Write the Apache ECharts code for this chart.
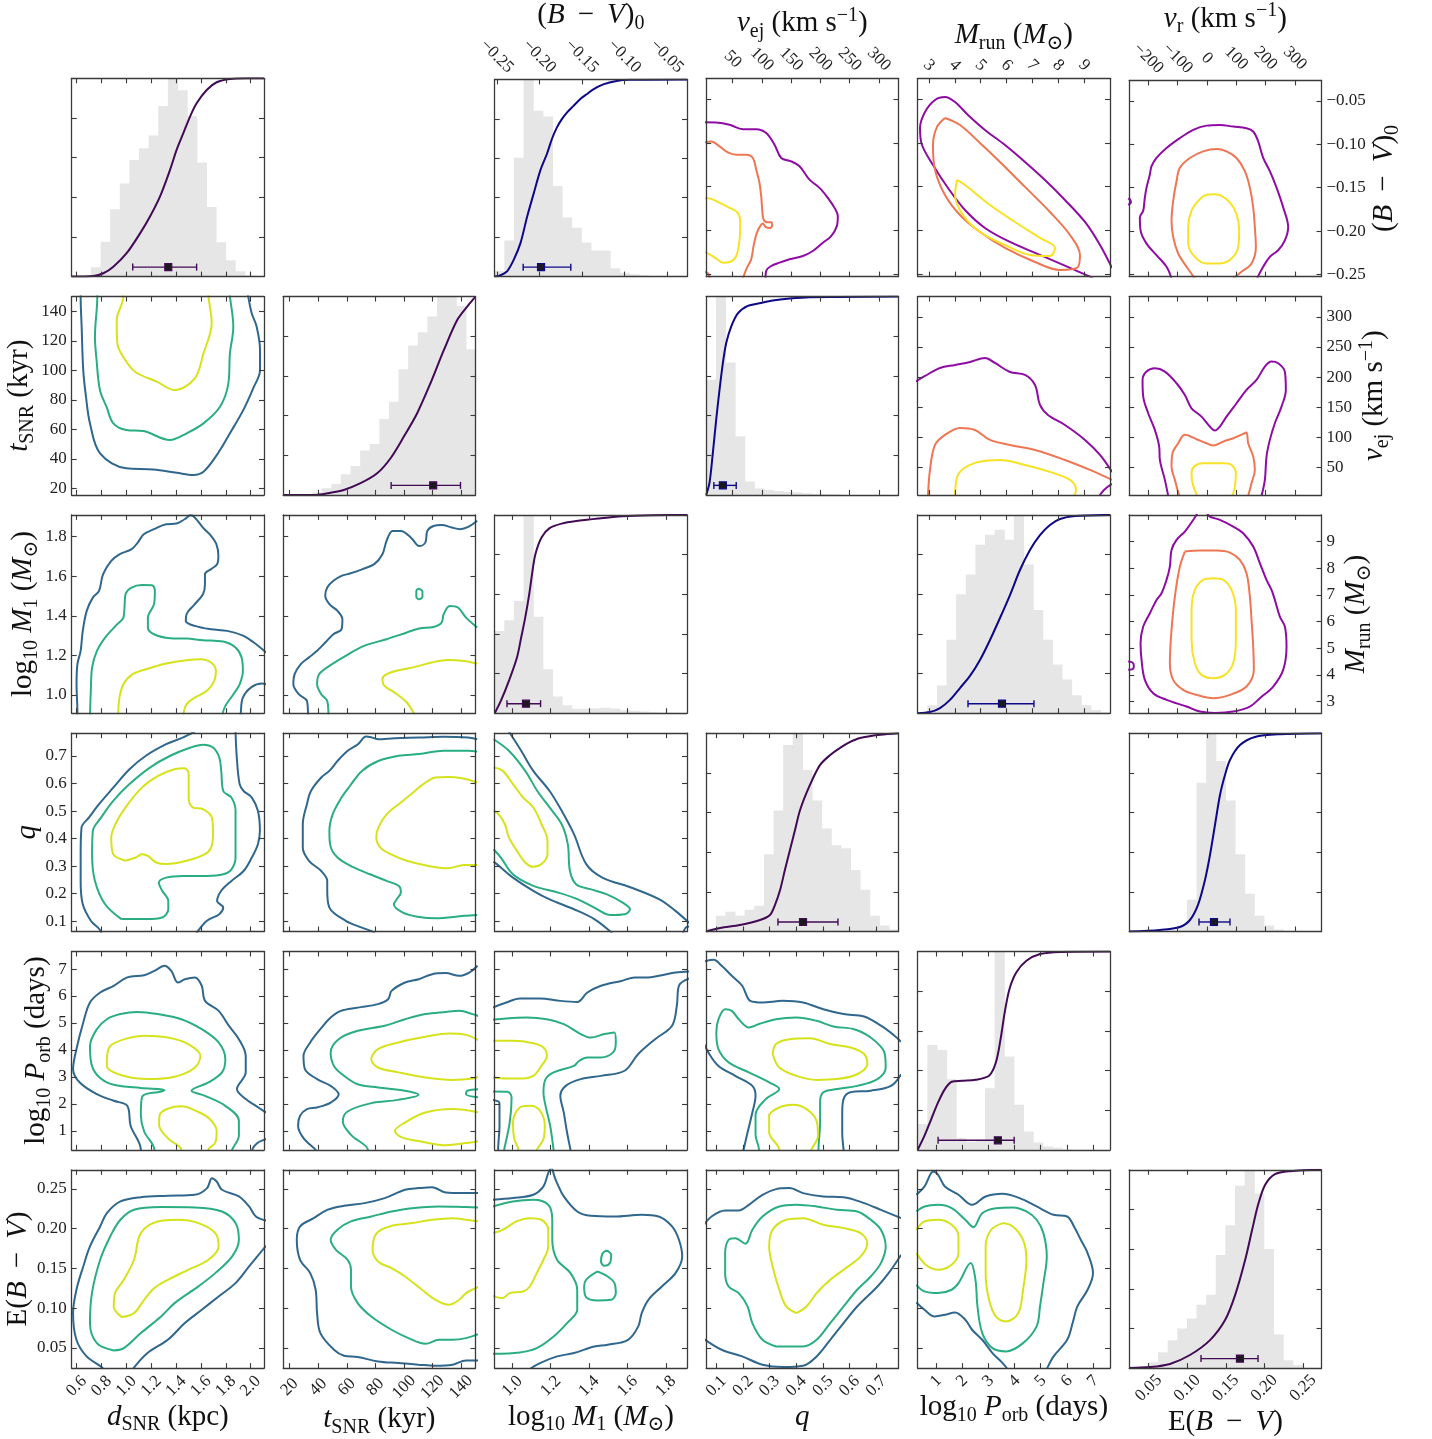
<!DOCTYPE html>
<html><head><meta charset="utf-8">
<script src="https://cdn.jsdelivr.net/npm/echarts@6/dist/echarts.min.js"></script>
<style>html,body{margin:0;padding:0;background:#fff}#c{width:1432px;height:1439px}</style>
</head><body><div id="c"></div>
<script>
// ---------- axis extents & ticks ----------
const range_d = [0.56, 2.107], ticks_d = [0.6,0.8,1.0,1.2,1.4,1.6,1.8,2.0];
const range_t = [15.5, 150], ticks_t = [20,40,60,80,100,120,140];
const range_M1 = [0.908, 1.91], ticks_M1 = [1.0,1.2,1.4,1.6,1.8];
const range_q = [0.062, 0.783], ticks_q = [0.1,0.2,0.3,0.4,0.5,0.6,0.7];
const range_P = [0.30, 7.65], ticks_P = [1,2,3,4,5,6,7];
const range_E = [0.0247, 0.274], ticks_E = [0.05,0.10,0.15,0.20,0.25];
const range_BV0 = [-0.2525, -0.0263], ticks_BV0 = [-0.25,-0.20,-0.15,-0.10,-0.05];
const range_vej = [4.8, 333.5], ticks_vej = [50,100,150,200,250,300];
const range_Mrun = [2.565, 10.0], ticks_Mrun = [3,4,5,6,7,8,9];
const range_vr = [-265, 391], ticks_vr = [-200,-100,0,100,200,300];
const range_frac = [0, 1], ticks_frac = [0.2,0.4,0.6,0.8];

// ---------- 1D marginals (20-bin histograms, CDFs, median & 68% interval) ----------
const hist_d = [0,0,0.047,0.176,0.34,0.47,0.588,0.647,0.711,0.86,1.0,0.94,0.81,0.576,0.351,0.173,0.082,0.027,0.005,0];
const cdf_d = [[0.56,0],[0.734,0.003],[0.815,0.017],[0.895,0.05],[1.002,0.118],[1.11,0.218],[1.19,0.303],[1.27,0.403],[1.351,0.538],[1.404,0.639],[1.458,0.723],[1.512,0.807],[1.565,0.874],[1.646,0.941],[1.726,0.98],[1.833,0.997],[1.968,1.0],[2.107,1.0]];
const err_d = [1.337, 1.051, 1.565];

const hist_t = [0,0,0.004,0.012,0.034,0.055,0.104,0.146,0.224,0.257,0.383,0.47,0.634,0.753,0.82,0.9,1.0,1.0,0.953,0.734];
const cdf_t = [[15.5,0],[36.9,0],[46.3,0.008],[57.9,0.025],[69.6,0.059],[81.2,0.109],[90.6,0.185],[99.9,0.294],[109.2,0.412],[118.5,0.563],[127.9,0.731],[137.2,0.882],[144.2,0.95],[150,1.0]];
const err_t = [120.4, 91.0, 139.5];

const hist_M1 = [0.415,0.469,0.566,1.0,0.486,0.222,0.084,0.04,0.022,0.022,0.025,0.027,0.024,0.015,0.012,0.008,0.005,0.002,0.002,0];
const cdf_M1 = [[0.908,0],[0.94,0.062],[0.982,0.163],[1.024,0.281],[1.046,0.382],[1.067,0.482],[1.088,0.6],[1.105,0.718],[1.12,0.802],[1.152,0.886],[1.194,0.933],[1.257,0.956],[1.342,0.97],[1.448,0.982],[1.575,0.993],[1.723,0.998],[1.91,1.0]];
const err_M1 = [1.071, 0.972, 1.147];

const hist_q = [0.015,0.08,0.1,0.08,0.11,0.13,0.39,0.61,0.94,1.0,0.815,0.66,0.52,0.435,0.42,0.31,0.21,0.08,0.03,0.01];
const cdf_q = [[0.062,0],[0.114,0.018],[0.189,0.033],[0.264,0.058],[0.301,0.083],[0.32,0.134],[0.339,0.209],[0.357,0.31],[0.376,0.411],[0.395,0.512],[0.414,0.613],[0.451,0.739],[0.489,0.84],[0.527,0.89],[0.564,0.926],[0.602,0.956],[0.639,0.976],[0.714,0.992],[0.783,1.0]];
const err_q = [0.425, 0.331, 0.556];

const hist_P = [0.13,0.528,0.503,0.356,0.06,0.04,0.05,0.311,1.0,0.47,0.227,0.092,0.037,0.017,0.01,0.003,0,0,0,0];
const cdf_P = [[0.3,0],[0.56,0.071],[0.819,0.155],[1.079,0.239],[1.339,0.306],[1.599,0.343],[1.988,0.348],[2.507,0.353],[3.027,0.373],[3.287,0.44],[3.468,0.558],[3.624,0.692],[3.806,0.81],[4.066,0.894],[4.455,0.953],[4.975,0.987],[5.754,0.998],[7.65,1.0]];
const err_P = [3.364, 1.079, 3.988];

const hist_E = [0,0.01,0.03,0.08,0.14,0.2,0.25,0.32,0.37,0.57,0.72,0.92,1.0,0.88,0.6,0.17,0.04,0.015,0,0];
const cdf_E = [[0.0247,0],[0.0517,0.005],[0.0776,0.021],[0.1035,0.066],[0.1295,0.141],[0.149,0.242],[0.162,0.368],[0.175,0.545],[0.184,0.696],[0.1917,0.822],[0.2008,0.923],[0.2137,0.978],[0.2332,0.993],[0.274,1.0]];
const err_E = [0.1683, 0.1178, 0.1917];

const hist_BV0 = [0.028,0.183,0.603,1.0,0.841,0.812,0.459,0.3,0.248,0.173,0.132,0.132,0.042,0.02,0.012,0.005,0.003,0,0,0];
const cdf_BV0 = [[-0.2525,0],[-0.2455,0.007],[-0.2377,0.028],[-0.2299,0.087],[-0.2221,0.171],[-0.2143,0.305],[-0.2066,0.422],[-0.1988,0.539],[-0.191,0.623],[-0.1852,0.698],[-0.1793,0.757],[-0.1735,0.799],[-0.1676,0.832],[-0.1598,0.866],[-0.152,0.9],[-0.1443,0.925],[-0.1365,0.95],[-0.1248,0.975],[-0.1092,0.992],[-0.0937,0.998],[-0.0263,1.0]];
const err_BV0 = [-0.198, -0.219, -0.163];

const hist_vej = [0.581,1.0,0.668,0.296,0.067,0.032,0.025,0.02,0.015,0.012,0.008,0.004,0.003,0.002,0,0,0,0,0,0];
const cdf_vej = [[4.8,0],[10.5,0.062],[16.2,0.213],[21.9,0.38],[27.6,0.531],[33.3,0.665],[39,0.766],[47.5,0.849],[58.9,0.916],[76,0.953],[95.9,0.966],[118.7,0.98],[147.2,0.99],[181.4,0.997],[232.7,0.998],[333.5,1.0]];
const err_vej = [33.3, 17.9, 56.1];

const hist_Mrun = [0,0.04,0.14,0.37,0.6,0.7,0.85,0.9,0.925,0.875,1.0,0.75,0.52,0.37,0.245,0.17,0.09,0.04,0.016,0.005];
const cdf_Mrun = [[2.565,0],[3.04,0.006],[3.427,0.026],[3.814,0.067],[4.2,0.127],[4.587,0.188],[4.973,0.268],[5.36,0.369],[5.746,0.48],[6.133,0.596],[6.519,0.722],[6.906,0.823],[7.293,0.898],[7.679,0.949],[8.066,0.979],[8.646,0.994],[10.0,1.0]];
const err_Mrun = [5.824, 4.51, 7.06];

const hist_vr = [0,0,0,0,0.005,0.03,0.16,0.75,1.0,0.86,0.66,0.39,0.19,0.08,0.03,0.01,0,0,0,0];
const cdf_vr = [[-265,0],[-160,0.008],[-91.8,0.023],[-57.7,0.058],[-30.4,0.134],[-6.5,0.26],[10.6,0.386],[27.6,0.537],[44.7,0.688],[61.7,0.789],[78.8,0.865],[112.9,0.94],[164,0.981],[249.3,0.995],[391,1.0]];
const err_vr = [24.2, -26.9, 78.8];

const err_level = 0.048;

// ---------- 2D contours: [outer, middle, inner] levels, each a list of curves of [x, y] ----------
const cont_t_d = [
 [[[0.632,152],[0.632,150],[0.64,129.6],[0.653,100],[0.675,82],[0.707,64],[0.788,43.7],[1.0,33.5],[1.216,32.8],[1.405,30.5],[1.538,29],[1.62,31.2],[1.727,42.5],[1.833,57.3],[1.94,73],[2.02,87.8],[2.075,100],[2.075,113.8],[2.048,129.6],[2.008,138.7],[1.98,150],[1.975,152]]],
 [[[0.766,152],[0.766,150],[0.747,122.8],[0.76,107],[0.787,86.6],[0.84,75.3],[0.895,64],[1.0,59.5],[1.136,58.8],[1.35,52.7],[1.485,57.3],[1.62,64],[1.753,75.3],[1.82,91],[1.833,111.5],[1.86,129.6],[1.833,150],[1.83,152]]],
 [[[0.975,152],[0.975,150],[0.922,134],[0.927,118.3],[0.975,109],[1.07,99],[1.244,92.3],[1.39,86.6],[1.55,94.6],[1.62,111.5],[1.686,131.9],[1.66,150],[1.658,152]]]
];
const cont_M1_d = [
 [[[0.606,0.88],[0.606,0.908],[0.599,1.054],[0.606,1.156],[0.632,1.223],[0.649,1.324],[0.681,1.425],[0.73,1.492],[0.78,1.526],[0.812,1.61],[0.878,1.678],[0.944,1.711],[1.042,1.737],[1.091,1.77],[1.14,1.812],[1.222,1.838],[1.32,1.863],[1.402,1.866],[1.468,1.888],[1.517,1.908],[1.55,1.897],[1.616,1.846],[1.681,1.804],[1.724,1.762],[1.74,1.703],[1.73,1.661],[1.681,1.636],[1.632,1.61],[1.632,1.56],[1.616,1.509],[1.55,1.459],[1.484,1.408],[1.478,1.374],[1.55,1.349],[1.681,1.332],[1.812,1.324],[1.943,1.299],[2.025,1.265],[2.124,1.215]],
  [[1.918,0.88],[1.92,0.908],[1.937,0.987],[2.009,1.041],[2.091,1.058],[2.124,1.054]]],
 [[[0.708,0.88],[0.708,0.903],[0.714,1.021],[0.724,1.139],[0.763,1.223],[0.829,1.29],[0.927,1.358],[0.976,1.391],[0.986,1.459],[0.993,1.509],[1.042,1.543],[1.124,1.556],[1.206,1.555],[1.229,1.526],[1.222,1.459],[1.173,1.391],[1.173,1.341],[1.222,1.307],[1.353,1.287],[1.484,1.285],[1.616,1.277],[1.779,1.27],[1.878,1.24],[1.927,1.189],[1.937,1.122],[1.911,1.054],[1.861,1.004],[1.796,0.945],[1.773,0.903],[1.77,0.88]]],
 [[[0.934,0.88],[0.934,0.903],[0.944,0.987],[0.976,1.054],[1.042,1.102],[1.157,1.13],[1.32,1.159],[1.484,1.176],[1.599,1.181],[1.681,1.164],[1.72,1.122],[1.707,1.071],[1.648,1.021],[1.55,0.987],[1.484,0.954],[1.458,0.903],[1.455,0.88]]]
];
const cont_M1_t = [
 [[[33,0.88],[32.9,0.903],[32.1,0.97],[26.4,1.004],[22.6,1.054],[23.5,1.105],[27.8,1.156],[33.5,1.19],[39.2,1.223],[44.9,1.265],[50.6,1.307],[56.3,1.332],[56.9,1.383],[53.5,1.425],[47.8,1.459],[44.9,1.501],[46.3,1.543],[50.6,1.577],[56.3,1.602],[62.1,1.614],[70.6,1.635],[79.2,1.661],[84.9,1.711],[87.8,1.779],[92,1.829],[97.8,1.829],[104.9,1.795],[110.6,1.753],[114.9,1.77],[116.3,1.829],[120.6,1.854],[126.3,1.859],[133.5,1.846],[139.2,1.838],[144.9,1.849],[151.2,1.88]]],
 [[[47.3,0.88],[47.2,0.903],[46.3,0.97],[42.1,1.004],[39.2,1.054],[40.6,1.105],[47.8,1.147],[59.2,1.198],[72,1.248],[87.8,1.282],[102,1.316],[110.6,1.336],[120.6,1.344],[126.3,1.366],[127.7,1.408],[132,1.45],[137.7,1.442],[143.4,1.391],[151.2,1.341]],
  [[110.6,1.538],[112.9,1.523],[112.9,1.496],[110.6,1.484],[108.6,1.496],[108.6,1.526],[110.6,1.538]]],
 [[[108,0.88],[107.2,0.903],[102,0.962],[93.5,1.012],[86.3,1.046],[84.9,1.08],[87.8,1.105],[96.3,1.125],[107.7,1.142],[119.2,1.164],[130.6,1.177],[142,1.172],[151.2,1.159]]]
];
const cont_q_d = [
 [[[0.796,0.05],[0.796,0.058],[0.714,0.101],[0.649,0.161],[0.632,0.246],[0.632,0.343],[0.639,0.44],[0.698,0.476],[0.78,0.525],[0.894,0.585],[1.025,0.652],[1.157,0.701],[1.32,0.743],[1.452,0.767],[1.55,0.789]],
  [[1.878,0.789],[1.888,0.695],[1.911,0.598],[1.943,0.573],[2.009,0.549],[2.058,0.501],[2.074,0.428],[2.058,0.379],[2.009,0.331],[1.943,0.282],[1.845,0.246],[1.763,0.21],[1.73,0.173],[1.779,0.149],[1.747,0.125],[1.648,0.101],[1.566,0.058],[1.56,0.05]]],
 [[[0.96,0.107],[0.829,0.161],[0.747,0.246],[0.724,0.343],[0.73,0.428],[0.796,0.476],[0.894,0.537],[1.025,0.598],[1.189,0.658],[1.353,0.701],[1.517,0.731],[1.616,0.741],[1.697,0.731],[1.747,0.695],[1.763,0.646],[1.779,0.573],[1.845,0.549],[1.878,0.501],[1.878,0.404],[1.878,0.331],[1.845,0.288],[1.779,0.27],[1.648,0.264],[1.452,0.264],[1.32,0.258],[1.261,0.24],[1.288,0.21],[1.337,0.173],[1.337,0.143],[1.288,0.113],[1.157,0.107],[0.96,0.107]]],
 [[[0.993,0.319],[0.894,0.343],[0.878,0.404],[0.911,0.452],[0.993,0.513],[1.124,0.585],[1.255,0.628],[1.386,0.652],[1.468,0.656],[1.501,0.634],[1.501,0.549],[1.534,0.513],[1.616,0.507],[1.688,0.476],[1.697,0.416],[1.681,0.367],[1.632,0.343],[1.484,0.319],[1.32,0.307],[1.239,0.313],[1.173,0.337],[1.124,0.343],[1.075,0.331],[0.993,0.319]]]
];
const cont_q_t = [
 [[[79.5,0.05],[79.2,0.058],[70.6,0.076],[59.2,0.101],[47.8,0.149],[46.3,0.21],[46.3,0.246],[42.1,0.282],[33.5,0.319],[29.2,0.367],[29.2,0.452],[32.1,0.525],[34.9,0.573],[42.1,0.622],[47.8,0.646],[53.5,0.682],[60.6,0.719],[67.8,0.743],[73.5,0.771],[77.8,0.767],[82,0.761],[93.5,0.765],[110.6,0.767],[127.7,0.77],[144.9,0.767],[151.2,0.761]]],
 [[[151.2,0.122],[142,0.119],[122,0.11],[110.6,0.115],[99.2,0.131],[92.9,0.161],[94.9,0.179],[97.8,0.204],[96.3,0.228],[87.8,0.246],[76.3,0.27],[64.9,0.295],[53.5,0.331],[48.3,0.379],[47.8,0.428],[50.1,0.488],[56.3,0.549],[62.1,0.591],[70.6,0.646],[82,0.682],[96.3,0.701],[110.6,0.707],[127.7,0.719],[144.9,0.719],[151.2,0.716]]],
 [[[151.2,0.304],[142,0.304],[130.6,0.292],[116.3,0.301],[102,0.319],[90.6,0.343],[83.5,0.367],[80.6,0.404],[82,0.44],[87.8,0.488],[96.3,0.525],[104.9,0.561],[113.5,0.598],[122,0.622],[130.6,0.624],[140.6,0.619],[151.2,0.604]]]
];
const cont_q_M1 = [
 [[[0.982,0.789],[1.046,0.719],[1.109,0.646],[1.194,0.573],[1.257,0.501],[1.321,0.416],[1.385,0.307],[1.469,0.258],[1.618,0.222],[1.766,0.179],[1.85,0.137],[1.925,0.091]],
  [[0.902,0.316],[0.94,0.295],[1.003,0.258],[1.109,0.21],[1.194,0.179],[1.321,0.143],[1.427,0.107],[1.522,0.055]],
  [[1.889,0.055],[1.903,0.076],[1.925,0.081]]],
 [[[0.902,0.761],[0.982,0.719],[1.067,0.646],[1.13,0.573],[1.194,0.513],[1.257,0.452],[1.289,0.379],[1.3,0.282],[1.332,0.234],[1.406,0.216],[1.49,0.198],[1.575,0.167],[1.613,0.143],[1.586,0.125],[1.512,0.122],[1.427,0.149],[1.342,0.179],[1.236,0.204],[1.109,0.228],[1.003,0.27],[0.94,0.331],[0.902,0.361]]],
 [[[0.902,0.658],[0.95,0.646],[1.003,0.598],[1.056,0.549],[1.109,0.513],[1.152,0.452],[1.183,0.392],[1.183,0.343],[1.152,0.307],[1.109,0.297],[1.067,0.313],[1.024,0.355],[0.982,0.404],[0.961,0.452],[0.929,0.488],[0.902,0.501]]]
];
const cont_P_d = [
 [[[1.116,0.25],[1.116,0.298],[1.034,1.19],[1.007,1.93],[0.898,2.116],[0.762,2.363],[0.625,2.795],[0.571,3.29],[0.598,4.03],[0.653,5.02],[0.707,5.76],[0.789,6.13],[0.898,6.38],[1.007,6.69],[1.143,6.77],[1.225,6.93],[1.306,7.12],[1.361,6.93],[1.415,6.5],[1.47,6.62],[1.551,6.69],[1.606,6.38],[1.633,5.82],[1.742,5.45],[1.824,4.9],[1.905,4.4],[1.96,3.78],[1.96,3.17],[1.889,2.55],[1.96,2.18],[2.042,1.93],[2.123,1.68]],
  [[2.014,0.25],[2.014,0.298],[2.052,0.545],[2.107,0.67],[2.129,0.69]]],
 [[[1.225,0.25],[1.225,0.298],[1.143,0.978],[1.116,1.6],[1.127,2.27],[1.279,2.46],[1.306,2.52],[1.116,2.59],[0.898,2.71],[0.789,2.96],[0.723,3.41],[0.707,4.15],[0.762,4.77],[0.843,5.14],[0.952,5.33],[1.088,5.41],[1.252,5.33],[1.442,5.14],[1.606,4.77],[1.742,4.28],[1.796,3.66],[1.769,3.17],[1.66,2.8],[1.524,2.49],[1.633,2.3],[1.796,1.93],[1.905,1.375],[1.905,0.82],[1.851,0.298],[1.85,0.25]]],
 [[[0.843,3.66],[0.87,4.15],[1.007,4.43],[1.143,4.53],[1.333,4.46],[1.497,4.22],[1.595,3.78],[1.551,3.35],[1.415,3.04],[1.225,2.92],[1.034,2.98],[0.898,3.17],[0.843,3.41],[0.843,3.66]],
  [[1.442,0.25],[1.442,0.298],[1.333,0.73],[1.263,1.22],[1.268,1.6],[1.333,1.82],[1.442,1.91],[1.579,1.7],[1.671,1.44],[1.726,1.0],[1.715,0.57],[1.66,0.298],[1.66,0.25]]]
];
const cont_P_t = [
 [[[38.5,0.25],[38.2,0.298],[29.7,0.73],[25.9,1.19],[27.3,1.56],[32.1,1.81],[39.2,1.87],[48.7,2.05],[54.3,2.36],[48.7,2.67],[39.2,2.92],[30.7,3.29],[29.7,3.78],[34.4,4.28],[41.5,4.77],[48.7,5.2],[55.8,5.45],[67.6,5.57],[81.8,5.7],[88.9,5.88],[91.3,6.19],[100.7,6.5],[110.2,6.62],[119.7,6.81],[129.2,6.85],[138.6,6.75],[145.7,6.87],[151.4,7.12]]],
 [[[74.7,0.25],[74.7,0.298],[62.9,0.854],[57.2,1.35],[60.5,1.72],[77.1,2.03],[96,2.15],[110.2,2.34],[100.7,2.49],[81.8,2.61],[67.6,2.73],[58.1,3.04],[51,3.41],[48.7,3.91],[54.3,4.4],[67.6,4.71],[86.5,4.9],[100.7,5.14],[114.9,5.33],[129.2,5.41],[138.6,5.45],[148.1,5.33],[152.8,5.24]],
  [[152.8,2.55],[144.3,2.49],[143.4,2.36],[152.8,2.24]]],
 [[[152.8,4.34],[143.4,4.56],[131.5,4.61],[114.9,4.49],[96,4.28],[81.8,4.03],[77.1,3.66],[81.8,3.35],[96,3.17],[114.9,2.98],[133.9,2.89],[148.1,2.94],[152.8,3.02]],
  [[152.8,1.68],[133.9,1.81],[114.9,1.68],[100.7,1.31],[93.6,1.0],[98.4,0.76],[112.6,0.6],[129.2,0.47],[143.4,0.55],[152.8,0.63]]]
];
const cont_P_M1 = [
 [[[0.897,5.57],[0.968,5.76],[1.039,5.91],[1.144,5.91],[1.25,5.82],[1.338,5.78],[1.391,6.13],[1.462,6.38],[1.568,6.56],[1.638,6.69],[1.709,6.69],[1.779,6.77],[1.85,6.87],[1.92,6.91]],
  [[1.92,6.65],[1.868,6.38],[1.857,5.64],[1.832,4.9],[1.744,4.4],[1.656,3.85],[1.585,3.23],[1.462,3.04],[1.356,2.92],[1.278,2.67],[1.25,2.3],[1.268,1.68],[1.285,0.94],[1.303,0.298],[1.304,0.25]],
  [[0.897,2.15],[0.933,2.03],[0.933,1.19],[0.926,0.298],[0.926,0.25]]],
 [[[0.897,5.12],[0.968,5.17],[1.074,5.2],[1.18,5.14],[1.268,4.96],[1.356,4.59],[1.409,4.46],[1.48,4.59],[1.532,4.65],[1.539,4.28],[1.525,3.91],[1.462,3.72],[1.391,3.72],[1.349,3.6],[1.321,3.41],[1.215,3.17],[1.173,2.92],[1.162,2.43],[1.173,1.93],[1.197,1.19],[1.215,0.298],[1.216,0.25]],
  [[0.897,2.46],[0.975,2.45],[0.996,2.24],[0.986,1.31],[0.957,0.298],[0.956,0.25]]],
 [[[0.897,4.34],[1.003,4.34],[1.109,4.25],[1.162,4.09],[1.18,3.78],[1.151,3.41],[1.109,3.04],[1.039,2.94],[0.968,2.94],[0.897,2.98]],
  [[1.031,0.25],[1.031,0.298],[1.01,0.695],[1.003,1.31],[1.039,1.87],[1.091,1.93],[1.144,1.75],[1.169,1.19],[1.162,0.695],[1.127,0.298],[1.126,0.25]]]
];
const cont_P_q = [
 [[[0.049,7.27],[0.09,7.34],[0.12,7.12],[0.158,6.75],[0.197,6.38],[0.227,5.82],[0.273,5.76],[0.349,5.82],[0.425,5.76],[0.501,5.51],[0.577,5.33],[0.654,5.24],[0.717,4.9],[0.768,4.53],[0.793,4.3]],
  [[0.049,4.34],[0.07,3.91],[0.108,3.41],[0.171,3.04],[0.235,2.67],[0.247,2.3],[0.235,1.68],[0.217,0.94],[0.202,0.298],[0.2,0.25]],
  [[0.793,3.1],[0.755,2.67],[0.679,2.49],[0.603,2.43],[0.577,2.18],[0.572,1.68],[0.572,0.94],[0.577,0.298],[0.578,0.25]]],
 [[[0.26,0.25],[0.26,0.298],[0.247,0.854],[0.247,1.6],[0.285,2.18],[0.336,2.55],[0.298,2.8],[0.222,3.17],[0.146,3.54],[0.108,4.03],[0.1,4.65],[0.108,5.14],[0.133,5.51],[0.158,5.45],[0.184,5.14],[0.222,4.83],[0.26,4.96],[0.324,5.14],[0.4,5.2],[0.476,5.08],[0.539,4.87],[0.616,4.77],[0.679,4.46],[0.73,3.91],[0.735,3.35],[0.704,2.92],[0.628,2.67],[0.552,2.55],[0.501,2.43],[0.489,2.05],[0.489,1.31],[0.483,0.298],[0.483,0.25]]],
 [[[0.311,3.85],[0.324,4.22],[0.374,4.4],[0.45,4.43],[0.527,4.22],[0.603,4.09],[0.654,3.85],[0.666,3.48],[0.628,3.1],[0.552,2.92],[0.476,2.89],[0.4,3.04],[0.336,3.35],[0.311,3.85]],
  [[0.336,0.25],[0.336,0.298],[0.298,0.94],[0.298,1.56],[0.336,1.87],[0.387,1.97],[0.438,1.81],[0.476,1.37],[0.481,0.82],[0.456,0.298],[0.455,0.25]]]
];
const cont_E_d = [
 [[[0.82,0.02],[0.816,0.0235],[0.68,0.0394],[0.598,0.0603],[0.571,0.0938],[0.598,0.1232],[0.653,0.1525],[0.707,0.1776],[0.789,0.2028],[0.843,0.2195],[0.952,0.2342],[1.116,0.2396],[1.333,0.2413],[1.551,0.2426],[1.649,0.251],[1.688,0.2635],[1.726,0.2593],[1.769,0.2489],[1.905,0.2405],[1.987,0.2279],[2.042,0.2153],[2.123,0.2103]],
  [[2.123,0.1785],[1.987,0.1525],[1.878,0.1315],[1.742,0.1148],[1.606,0.098],[1.47,0.0813],[1.333,0.0603],[1.17,0.0436],[1.05,0.0235],[1.04,0.02]]],
 [[[0.898,0.0469],[0.762,0.0561],[0.707,0.0813],[0.723,0.119],[0.789,0.1609],[0.87,0.1902],[0.952,0.2112],[1.061,0.2237],[1.279,0.2271],[1.551,0.2267],[1.769,0.2216],[1.878,0.207],[1.905,0.186],[1.851,0.1651],[1.715,0.1441],[1.579,0.1274],[1.388,0.1064],[1.279,0.0896],[1.116,0.0687],[0.979,0.0498],[0.898,0.0469]]],
 [[[0.963,0.0888],[0.898,0.1022],[0.909,0.119],[0.979,0.1357],[1.061,0.1609],[1.116,0.1944],[1.252,0.2091],[1.415,0.2112],[1.579,0.207],[1.715,0.1944],[1.742,0.1776],[1.66,0.1609],[1.497,0.1483],[1.333,0.1357],[1.225,0.1253],[1.143,0.1106],[1.061,0.0938],[0.963,0.0888]]]
];
const cont_E_t = [
 [[[152.8,0.0344],[143.4,0.0344],[133.9,0.029],[122.1,0.0276],[110.2,0.029],[96,0.0311],[81.8,0.0331],[67.6,0.0386],[58.1,0.0402],[51,0.0478],[41.5,0.0687],[39.2,0.0938],[38.2,0.1232],[34.4,0.1441],[27.3,0.1609],[25,0.186],[27.3,0.2028],[36.8,0.2132],[46.3,0.2237],[58.1,0.2288],[72.3,0.2321],[86.5,0.2384],[100.7,0.2489],[110.2,0.251],[119.7,0.2522],[129.2,0.2455],[141,0.2447],[152.8,0.2447]]],
 [[[152.8,0.0679],[143.4,0.0624],[133.9,0.0603],[124.4,0.0603],[115,0.0553],[103.1,0.0624],[91.3,0.0729],[77.1,0.0896],[67.6,0.1064],[62.9,0.1273],[62.9,0.1483],[60.5,0.1609],[52.4,0.1734],[48.7,0.186],[53.4,0.1986],[62.9,0.2091],[77.1,0.2153],[91.3,0.2216],[105.5,0.2258],[124.4,0.2279],[143.4,0.2271],[152.8,0.2267]]],
 [[[152.8,0.1273],[143.4,0.119],[138.6,0.1106],[131.5,0.1043],[122.1,0.1106],[112.6,0.1232],[100.7,0.1399],[91.3,0.1504],[81.8,0.1588],[78,0.1734],[80.9,0.1944],[91.3,0.2036],[105.5,0.207],[119.7,0.2112],[133.9,0.2132],[143.4,0.2112],[152.8,0.2091]]]
];
const cont_E_M1 = [
 [[[0.897,0.2363],[1.003,0.2384],[1.109,0.2426],[1.162,0.2531],[1.187,0.2698],[1.203,0.2765],[1.22,0.265],[1.233,0.2572],[1.268,0.2405],[1.338,0.2216],[1.409,0.2162],[1.532,0.2153],[1.674,0.2174],[1.762,0.2153],[1.832,0.2028],[1.868,0.186],[1.885,0.1651],[1.85,0.1441],[1.779,0.1273],[1.709,0.1106],[1.674,0.0938],[1.656,0.0771],[1.603,0.0603],[1.497,0.054],[1.427,0.0519],[1.321,0.0436],[1.233,0.0394],[1.144,0.031],[1.091,0.0235],[1.085,0.02]]],
 [[[0.897,0.2279],[1.003,0.2342],[1.109,0.2363],[1.187,0.23],[1.208,0.2112],[1.208,0.186],[1.233,0.1609],[1.303,0.1441],[1.338,0.1232],[1.338,0.098],[1.285,0.0813],[1.215,0.0645],[1.127,0.0498],[1.039,0.0444],[0.897,0.0427]],
  [[1.49,0.1726],[1.515,0.1672],[1.508,0.1567],[1.48,0.1533],[1.462,0.1588],[1.469,0.1684],[1.49,0.1726]],
  [[1.444,0.1462],[1.497,0.1399],[1.532,0.1315],[1.539,0.119],[1.515,0.1106],[1.444,0.1098],[1.384,0.114],[1.374,0.1273],[1.384,0.1357],[1.444,0.1462]]],
 [[[0.897,0.1944],[0.95,0.1986],[1.021,0.2091],[1.091,0.2132],[1.151,0.2112],[1.187,0.1986],[1.187,0.1776],[1.162,0.1609],[1.127,0.1441],[1.091,0.1273],[1.056,0.121],[0.986,0.119],[0.95,0.1127],[0.897,0.1156]]]
];
const cont_E_q = [
 [[[0.049,0.2028],[0.082,0.2153],[0.133,0.2229],[0.184,0.2229],[0.222,0.23],[0.273,0.2426],[0.324,0.2497],[0.374,0.251],[0.425,0.2447],[0.501,0.2405],[0.577,0.2396],[0.654,0.2321],[0.717,0.2237],[0.793,0.2132]],
  [[0.793,0.1672],[0.755,0.1483],[0.704,0.1273],[0.628,0.1022],[0.577,0.0813],[0.527,0.0603],[0.476,0.0394],[0.425,0.0276],[0.349,0.026],[0.273,0.029],[0.197,0.0394],[0.12,0.0478],[0.049,0.0624]]],
 [[[0.324,0.0519],[0.273,0.0603],[0.235,0.0813],[0.217,0.1022],[0.184,0.119],[0.146,0.1273],[0.133,0.1441],[0.133,0.1692],[0.146,0.186],[0.171,0.1881],[0.209,0.181],[0.235,0.1986],[0.273,0.2153],[0.336,0.2279],[0.4,0.23],[0.476,0.2279],[0.552,0.2237],[0.628,0.2216],[0.679,0.2112],[0.717,0.1986],[0.735,0.1776],[0.717,0.1567],[0.679,0.1399],[0.628,0.1232],[0.577,0.1022],[0.527,0.0813],[0.476,0.0603],[0.425,0.0519],[0.324,0.0519]]],
 [[[0.4,0.0938],[0.362,0.1022],[0.336,0.1232],[0.311,0.1525],[0.298,0.1776],[0.311,0.1986],[0.362,0.2112],[0.425,0.2132],[0.501,0.2049],[0.577,0.2007],[0.641,0.1944],[0.666,0.1818],[0.641,0.1651],[0.577,0.1483],[0.527,0.1357],[0.476,0.119],[0.438,0.1022],[0.4,0.0938]]]
];
const cont_E_P = [
 [[[0.248,0.2426],[0.56,0.2531],[0.897,0.2719],[1.079,0.2677],[1.339,0.2531],[1.858,0.2426],[2.378,0.23],[2.897,0.2405],[3.546,0.2438],[4.196,0.2384],[4.845,0.2279],[5.494,0.2174],[6.013,0.2153],[6.273,0.2028],[6.533,0.186],[6.793,0.1693],[7.0,0.1441],[6.793,0.1232],[6.403,0.1022],[6.221,0.0813],[6.013,0.0603],[5.494,0.0394],[5.234,0.0235],[5.2,0.02]],
  [[0.248,0.1072],[0.56,0.098],[0.949,0.0896],[1.339,0.0917],[1.728,0.0947],[2.118,0.0855],[2.378,0.0729],[2.767,0.0603],[3.157,0.0436],[3.546,0.031],[3.728,0.0235],[3.75,0.02]]],
 [[[0.248,0.2216],[0.56,0.2279],[1.079,0.23],[1.599,0.2258],[2.118,0.2112],[2.43,0.2019],[2.767,0.2195],[3.287,0.2258],[3.936,0.2267],[4.455,0.2216],[4.845,0.2112],[5.104,0.1944],[5.234,0.1651],[5.104,0.1315],[4.975,0.1022],[4.845,0.0771],[4.326,0.0561],[3.676,0.0457],[3.157,0.0498],[2.767,0.0687],[2.585,0.1022],[2.507,0.1357],[2.325,0.1567],[1.858,0.1315],[1.599,0.1232],[1.079,0.119],[0.56,0.1211],[0.248,0.1294]]],
 [[[0.248,0.1986],[0.56,0.2091],[1.079,0.2112],[1.599,0.2049],[1.858,0.1902],[1.858,0.1693],[1.599,0.1546],[1.079,0.1483],[0.689,0.1525],[0.43,0.1609],[0.248,0.1693]],
  [[3.546,0.207],[3.936,0.2028],[4.326,0.186],[4.455,0.1609],[4.326,0.1232],[4.144,0.0938],[3.676,0.0834],[3.287,0.0896],[3.027,0.1106],[2.897,0.1441],[2.897,0.1776],[3.105,0.1986],[3.546,0.207]]]
];
// upper-triangle panels
const cont_BV0_vej = [
 [[[2,-0.0763],[21.9,-0.0767],[44.7,-0.0793],[67.5,-0.0843],[90.3,-0.0843],[107.3,-0.0888],[121.6,-0.1021],[133,-0.1172],[150.1,-0.121],[164.3,-0.1267],[181.4,-0.1419],[198.5,-0.1513],[212.7,-0.1627],[224.1,-0.1741],[229.8,-0.1835],[228.1,-0.1949],[218.4,-0.2063],[204.2,-0.2139],[187.1,-0.2233],[170,-0.229],[147.2,-0.2328],[130.1,-0.2366],[115.9,-0.2404],[107.3,-0.2461],[106.2,-0.2548]]],
 [[[2,-0.0994],[13.3,-0.0983],[27.6,-0.1039],[41.8,-0.1108],[56.1,-0.1134],[73.2,-0.1134],[84.6,-0.1172],[90.3,-0.1305],[95.9,-0.1457],[98.8,-0.1608],[100.5,-0.176],[102.8,-0.1873],[108.5,-0.1904],[115.9,-0.1904],[117.6,-0.1942],[113,-0.1972],[106.2,-0.1957],[101.6,-0.1919],[97.1,-0.1949],[91.4,-0.2025],[85.7,-0.2177],[81.7,-0.2328],[73.2,-0.2442],[67.5,-0.2548]],
  [[2,-0.2472],[7.6,-0.2487],[11.6,-0.2548]]],
 [[[2,-0.1627],[13.3,-0.1638],[27.6,-0.1684],[44.7,-0.1741],[58.9,-0.1798],[62.9,-0.1911],[61.8,-0.2101],[56.1,-0.229],[44.7,-0.2358],[33.3,-0.2366],[21.9,-0.232],[10.5,-0.2271],[2,-0.2245]]]
];
const cont_BV0_Mrun = [
 [[[9.342,-0.254],[8.453,-0.2426],[7.293,-0.2278],[6.133,-0.213],[5.166,-0.197],[4.393,-0.1765],[3.736,-0.1514],[3.156,-0.1252],[2.731,-0.1024],[2.654,-0.083],[2.847,-0.0647],[3.234,-0.051],[3.62,-0.0476],[4.007,-0.0533],[4.509,-0.0681],[5.166,-0.0852],[5.94,-0.1024],[6.713,-0.1217],[7.486,-0.1423],[8.259,-0.1651],[9.033,-0.1902],[9.613,-0.2164],[10.077,-0.2426]]],
 [[[3.62,-0.0716],[4.2,-0.0796],[4.973,-0.1001],[5.746,-0.1217],[6.713,-0.1502],[7.679,-0.1788],[8.453,-0.205],[8.839,-0.2278],[8.723,-0.2426],[8.066,-0.2449],[7.1,-0.2358],[5.94,-0.2198],[4.973,-0.2016],[4.2,-0.1822],[3.62,-0.1594],[3.234,-0.1309],[3.156,-0.1024],[3.311,-0.0818],[3.62,-0.0716]]],
 [[[4.085,-0.1423],[4.393,-0.148],[5.36,-0.1708],[6.326,-0.1902],[7.293,-0.2084],[7.873,-0.2198],[7.679,-0.229],[6.906,-0.2278],[5.94,-0.2164],[4.973,-0.2016],[4.316,-0.1822],[4.007,-0.1594],[4.085,-0.1423]]]
];
const cont_BV0_vr = [
 [[[-120.6,-0.2544],[-137.7,-0.2411],[-171.8,-0.2278],[-205.9,-0.2145],[-226.3,-0.1993],[-228.6,-0.1841],[-217.2,-0.1765],[-211.6,-0.1613],[-205.9,-0.1499],[-194.5,-0.1347],[-188.8,-0.1252],[-171.8,-0.1157],[-137.7,-0.1042],[-92.2,-0.0928],[-46.7,-0.0833],[-1.2,-0.0784],[44.3,-0.0776],[89.7,-0.0795],[135.2,-0.0814],[158,-0.0852],[175,-0.0966],[192.1,-0.1156],[214.8,-0.1309],[237.6,-0.1499],[260.3,-0.1727],[277.3,-0.1955],[266,-0.2107],[243.2,-0.2221],[214.8,-0.2297],[192.1,-0.2411],[171.6,-0.2544]],
  [[-268.4,-0.1624],[-260.5,-0.1643],[-259.3,-0.1674],[-268.4,-0.1696]]],
 [[[-41,-0.2544],[-69.4,-0.2411],[-97.9,-0.2259],[-114.9,-0.2069],[-120.6,-0.1879],[-114.9,-0.165],[-103.5,-0.1423],[-92.2,-0.1271],[-58.1,-0.1157],[-12.6,-0.1081],[32.9,-0.1054],[67,-0.1081],[101.1,-0.1157],[129.5,-0.1309],[146.6,-0.1499],[158,-0.1727],[163.6,-0.1955],[167.1,-0.2183],[152.3,-0.2373],[118.2,-0.2468],[89.7,-0.2544]]],
 [[[21.5,-0.1575],[44.3,-0.1586],[78.4,-0.167],[101.1,-0.1803],[110.2,-0.1993],[106.8,-0.2183],[84.1,-0.2316],[44.3,-0.2373],[-1.2,-0.2373],[-41,-0.2297],[-63.8,-0.2145],[-63.8,-0.1955],[-52.4,-0.1765],[-24,-0.1632],[-1.2,-0.1582],[21.5,-0.1575]]]
];
const cont_vej_Mrun = [
 [[[2.457,191.9],[2.847,201.9],[3.427,215.2],[4.007,220.2],[4.587,225.2],[5.166,231.8],[5.553,223.5],[6.133,208.5],[6.713,203.6],[7.1,187],[7.293,153.9],[7.602,137.3],[8.259,120.7],[9.033,95.9],[9.613,71],[10.077,42.9]],
  [[9.536,-0.2],[9.768,13],[10.077,23]]],
 [[[2.96,-0.2],[3.04,46.2],[3.234,87.6],[3.62,104.2],[4.2,115.8],[4.78,112.4],[5.36,95.9],[6.133,87.6],[7.1,79.3],[8.259,62.7],[9.226,46.2],[10.077,29.6]]],
 [[[4.007,-0.2],[4.123,37.9],[4.78,57.8],[5.746,62.7],[6.713,54.4],[7.679,42.9],[8.453,29.6],[8.685,13],[8.569,-0.2]]]
];
const cont_vej_vr = [
 [[[-132,3.2],[-143.3,29.7],[-160.4,62.8],[-162.7,84.9],[-177.5,112.5],[-200.2,140.2],[-217.2,167.8],[-219.5,195.4],[-205.9,209.2],[-177.5,214.7],[-143.3,209.2],[-103.5,189.9],[-75.1,170.5],[-52.4,148.4],[-18.3,134.6],[10.2,118.1],[27.2,111.4],[44.3,118.1],[67,134.6],[101.1,156.7],[135.2,178.8],[169.3,195.4],[197.8,217.5],[220.5,225.8],[243.2,223],[266,209.2],[269.4,178.8],[254.6,151.2],[231.9,123.6],[214.8,96],[203.4,68.4],[197.8,29.7],[186.4,3.2]]],
 [[[-94.5,3.2],[-109.2,29.7],[-120.6,51.8],[-117.2,73.9],[-97.9,90.4],[-75.1,104.3],[-35.3,97.1],[-1.2,90.4],[21.5,86.6],[55.6,93.2],[89.7,98.7],[123.9,105.9],[135.2,108.1],[140.9,90.4],[158,68.4],[163.6,46.2],[152.3,24.2],[140.9,3.2]]],
 [[[-33.1,3.2],[-49,24.2],[-52.4,40.7],[-41,52.9],[-12.6,57.3],[21.5,57.3],[55.6,57.3],[84.1,54.5],[98.8,40.7],[95.4,18.6],[87.5,3.2]]]
];
const cont_Mrun_vr = [
 [[[-33.1,10.04],[-46.7,9.81],[-75.1,9.375],[-103.5,9.063],[-120.6,8.688],[-126.3,8.063],[-137.7,7.563],[-154.7,7.063],[-171.8,6.813],[-194.5,6.314],[-217.2,5.814],[-226.3,5.189],[-222.9,4.564],[-211.6,3.815],[-183.1,3.315],[-137.7,3.065],[-69.4,2.815],[-24,2.627],[27.2,2.575],[89.7,2.627],[146.6,2.815],[180.7,3.128],[226.2,3.565],[260.3,4.19],[271.7,5.064],[266,5.814],[248.9,6.189],[231.9,6.814],[220.5,7.188],[203.4,7.563],[180.7,8.188],[158,8.813],[123.9,9.313],[89.7,9.563],[44.3,9.813],[10.2,9.938],[1.1,10.04]],
  [[-268.4,4.502],[-253.6,4.464],[-249.1,4.339],[-253.6,4.214],[-268.4,4.19]]],
 [[[-75.1,8.625],[-24,8.663],[32.9,8.663],[78.4,8.588],[112.5,8.313],[135.2,7.813],[146.6,6.939],[152.3,6.064],[158,5.064],[160.2,4.19],[135.2,3.565],[78.4,3.252],[21.5,3.127],[-35.3,3.252],[-80.8,3.44],[-114.9,3.815],[-126.3,4.439],[-120.6,5.689],[-109.2,6.939],[-92.2,8.063],[-75.1,8.625]]],
 [[[21.5,7.626],[55.6,7.563],[84.1,7.188],[98.8,6.439],[98.8,5.314],[89.7,4.439],[61.3,4.002],[21.5,3.877],[-18.3,4.002],[-41,4.439],[-52.4,5.314],[-52.4,6.439],[-41,7.188],[-12.6,7.563],[21.5,7.626]]]
];

// ---------- styling ----------
const SERIF = '"Liberation Serif","DejaVu Serif",serif';
const VIRIDIS = ['#30678d', '#2aae80', '#d6e21b'];
const PLASMA = ['#8e0ca4', '#ee7652', '#f7e225'];
const CDF_LOW = '#420a55', CDF_UP = '#0d0887', HISTC = '#e6e6e6', AXC = '#3a3a3a';
const FS = 29, SFS = 20, TFS = 17;
const RICH = {
  i: {fontFamily: SERIF, fontStyle: 'italic', fontSize: FS, color: '#111', lineHeight: 36},
  r: {fontFamily: SERIF, fontSize: FS, color: '#111', lineHeight: 36},
  s: {fontFamily: SERIF, fontSize: SFS, color: '#111', lineHeight: 20, verticalAlign: 'bottom'},
  p: {fontFamily: SERIF, fontSize: SFS, color: '#111', lineHeight: 20, verticalAlign: 'top'}
};
const VARS = {
  d:    {range: range_d, ticks: ticks_d, dec: 1, lm: 18, name: '{i|d}{s|SNR}{r| (kpc)}'},
  t:    {range: range_t, ticks: ticks_t, dec: 0, lm: 19, name: '{i|t}{s|SNR}{r| (kyr)}'},
  M1:   {range: range_M1, ticks: ticks_M1, dec: 1, lm: 18, name: '{r|log}{s|10}{i| M}{s|1}{r| (}{i|M}{s|⊙}{r|)}'},
  q:    {range: range_q, ticks: ticks_q, dec: 1, lm: 18, name: '{i|q}'},
  P:    {range: range_P, ticks: ticks_P, dec: 0, lm: 13, name: '{r|log}{s|10}{i| P}{s|orb}{r| (days)}'},
  E:    {range: range_E, ticks: ticks_E, dec: 2, lm: 20, name: '{r|E(}{i|B}{r| \u2009−\u2009 }{i|V}{r|)}'},
  BV0:  {range: range_BV0, ticks: ticks_BV0, dec: 2, lm: 23, name: '{r|(}{i|B}{r| \u2009−\u2009 }{i|V}{r|)}{s|0}'},
  vej:  {range: range_vej, ticks: ticks_vej, dec: 0, lm: 19, name: '{i|v}{s|ej}{r| (km s}{p|−1}{r|)}'},
  Mrun: {range: range_Mrun, ticks: ticks_Mrun, dec: 0, lm: 13, name: '{i|M}{s|run}{r| (}{i|M}{s|⊙}{r|)}'},
  vr:   {range: range_vr, ticks: ticks_vr, dec: 0, lm: 22, name: '{i|v}{s|r}{r| (km s}{p|−1}{r|)}'},
  frac: {range: range_frac, ticks: ticks_frac, dec: 1, lm: 10, name: ''}
};
const NAMEGAP = {
  bottom: {d: 29, t: 29, M1: 24, q: 31, P: 17, E: 35},
  left:   {t: 27, M1: 27, q: 24, P: 17, E: 32},
  top:    {BV0: 43, vej: 29, Mrun: 22, vr: 39},
  right:  {BV0: 45, vej: 35, Mrun: 17}
};
const GX0 = 71.7, GDX = 211.5, GW = 192.3, GY0 = 78.3, GDY = 218.3, GH = 198.3;

const PANELS = [
  {r:0,c:0,x:'d',hist:hist_d,cdf:cdf_d,err:err_d,col:CDF_LOW},
  {r:1,c:1,x:'t',hist:hist_t,cdf:cdf_t,err:err_t,col:CDF_LOW},
  {r:2,c:2,x:'M1',hist:hist_M1,cdf:cdf_M1,err:err_M1,col:CDF_LOW},
  {r:3,c:3,x:'q',hist:hist_q,cdf:cdf_q,err:err_q,col:CDF_LOW},
  {r:4,c:4,x:'P',hist:hist_P,cdf:cdf_P,err:err_P,col:CDF_LOW},
  {r:5,c:5,x:'E',hist:hist_E,cdf:cdf_E,err:err_E,col:CDF_LOW},
  {r:0,c:2,x:'BV0',hist:hist_BV0,cdf:cdf_BV0,err:err_BV0,col:CDF_UP},
  {r:1,c:3,x:'vej',hist:hist_vej,cdf:cdf_vej,err:err_vej,col:CDF_UP},
  {r:2,c:4,x:'Mrun',hist:hist_Mrun,cdf:cdf_Mrun,err:err_Mrun,col:CDF_UP},
  {r:3,c:5,x:'vr',hist:hist_vr,cdf:cdf_vr,err:err_vr,col:CDF_UP},
  {r:1,c:0,x:'d',y:'t',cont:cont_t_d,pal:VIRIDIS},
  {r:2,c:0,x:'d',y:'M1',cont:cont_M1_d,pal:VIRIDIS},
  {r:2,c:1,x:'t',y:'M1',cont:cont_M1_t,pal:VIRIDIS},
  {r:3,c:0,x:'d',y:'q',cont:cont_q_d,pal:VIRIDIS},
  {r:3,c:1,x:'t',y:'q',cont:cont_q_t,pal:VIRIDIS},
  {r:3,c:2,x:'M1',y:'q',cont:cont_q_M1,pal:VIRIDIS},
  {r:4,c:0,x:'d',y:'P',cont:cont_P_d,pal:VIRIDIS},
  {r:4,c:1,x:'t',y:'P',cont:cont_P_t,pal:VIRIDIS},
  {r:4,c:2,x:'M1',y:'P',cont:cont_P_M1,pal:VIRIDIS},
  {r:4,c:3,x:'q',y:'P',cont:cont_P_q,pal:VIRIDIS},
  {r:5,c:0,x:'d',y:'E',cont:cont_E_d,pal:VIRIDIS},
  {r:5,c:1,x:'t',y:'E',cont:cont_E_t,pal:VIRIDIS},
  {r:5,c:2,x:'M1',y:'E',cont:cont_E_M1,pal:VIRIDIS},
  {r:5,c:3,x:'q',y:'E',cont:cont_E_q,pal:VIRIDIS},
  {r:5,c:4,x:'P',y:'E',cont:cont_E_P,pal:VIRIDIS},
  {r:0,c:3,x:'vej',y:'BV0',cont:cont_BV0_vej,pal:PLASMA},
  {r:0,c:4,x:'Mrun',y:'BV0',cont:cont_BV0_Mrun,pal:PLASMA},
  {r:0,c:5,x:'vr',y:'BV0',cont:cont_BV0_vr,pal:PLASMA},
  {r:1,c:4,x:'Mrun',y:'vej',cont:cont_vej_Mrun,pal:PLASMA},
  {r:1,c:5,x:'vr',y:'vej',cont:cont_vej_vr,pal:PLASMA},
  {r:2,c:5,x:'vr',y:'Mrun',cont:cont_Mrun_vr,pal:PLASMA}
];

function fmt(v, dec) {
  if (Math.abs(v) < 1e-9) return '0';
  return (v < 0 ? '\u2212' : '') + Math.abs(v).toFixed(dec);
}

function mkAxis(kind, gi, v, pos, showLab, showName) {
  const V = VARS[v];
  const ax = {
    type: 'value', gridIndex: gi, position: pos, min: V.range[0], max: V.range[1], z: 5,
    axisLine: {show: true, onZero: false, lineStyle: {color: AXC, width: 1.3}},
    splitLine: {show: false}, axisPointer: {show: false},
    axisTick: {show: true, inside: true, length: 5, customValues: V.ticks, lineStyle: {color: AXC, width: 1.1}},
    axisLabel: {show: showLab, customValues: V.ticks, formatter: (val) => fmt(val, V.dec),
                fontFamily: SERIF, fontSize: TFS, color: '#222'}
  };
  if (kind === 'x') Object.assign(ax.axisLabel, {rotate: 45, align: 'center', verticalAlign: 'middle', margin: V.lm});
  else ax.axisLabel.margin = 5;
  if (showName) {
    ax.name = V.name;
    ax.nameLocation = 'middle';
    ax.nameGap = NAMEGAP[pos][v];
    ax.nameTextStyle = {rich: RICH, fontFamily: SERIF, fontSize: FS, color: '#111'};
    if (kind === 'y') ax.nameRotate = 90;
  }
  return ax;
}

const grids = [], xAxes = [], yAxes = [], series = [];
PANELS.forEach((p, gi) => {
  grids.push({left: GX0 + GDX * p.c, top: GY0 + GDY * p.r, width: GW, height: GH, containLabel: false});
  const yv = p.hist ? 'frac' : p.y;
  const xb = xAxes.length;
  xAxes.push(mkAxis('x', gi, p.x, 'bottom', p.r === 5, p.r === 5));
  xAxes.push(mkAxis('x', gi, p.x, 'top', p.r === 0 && p.c >= 2, p.r === 0 && p.c >= 2));
  const yl = yAxes.length;
  yAxes.push(mkAxis('y', gi, yv, 'left', p.c === 0 && p.r >= 1, p.c === 0 && p.r >= 1));
  yAxes.push(mkAxis('y', gi, yv, 'right', p.c === 5 && p.r <= 2, p.c === 5 && p.r <= 2));

  if (p.hist) {
    const rg = VARS[p.x].range, n = p.hist.length, w = (rg[1] - rg[0]) / n;
    series.push({
      type: 'custom', xAxisIndex: xb, yAxisIndex: yl, silent: true, z: 1, clip: true,
      data: p.hist.map((h, i) => [rg[0] + i * w, rg[0] + (i + 1) * w, h]),
      encode: {x: [0, 1], y: 2},
      renderItem: (params, api) => {
        const a = api.coord([api.value(0), api.value(2)]);
        const b = api.coord([api.value(1), 0]);
        return {type: 'rect', shape: {x: a[0], y: a[1], width: b[0] - a[0] + 0.6, height: b[1] - a[1]}, style: {fill: HISTC}};
      }
    });
    series.push({
      type: 'line', xAxisIndex: xb, yAxisIndex: yl, data: p.cdf, smooth: 0.3, showSymbol: false, symbol: 'none',
      silent: true, z: 4, lineStyle: {color: p.col, width: 2}
    });
    const col = p.col;
    series.push({
      type: 'custom', xAxisIndex: xb, yAxisIndex: yl, silent: true, z: 6,
      data: [[p.err[0], p.err[1], p.err[2], err_level]], encode: {x: [0, 1, 2], y: 3},
      renderItem: (params, api) => {
        const yv2 = api.value(3);
        const m = api.coord([api.value(0), yv2]), l = api.coord([api.value(1), yv2]), h = api.coord([api.value(2), yv2]);
        const st = {stroke: col, lineWidth: 1.4};
        return {type: 'group', children: [
          {type: 'line', shape: {x1: l[0], y1: l[1], x2: h[0], y2: h[1]}, style: st},
          {type: 'line', shape: {x1: l[0], y1: l[1] - 3.5, x2: l[0], y2: l[1] + 3.5}, style: st},
          {type: 'line', shape: {x1: h[0], y1: h[1] - 3.5, x2: h[0], y2: h[1] + 3.5}, style: st},
          {type: 'rect', shape: {x: m[0] - 3.5, y: m[1] - 3.5, width: 7, height: 7}, style: {fill: '#1a1a1a', stroke: col, lineWidth: 1.2}}
        ]};
      }
    });
  } else {
    p.cont.forEach((level, li) => {
      level.forEach(curve => {
        series.push({
          type: 'line', xAxisIndex: xb, yAxisIndex: yl, data: curve, smooth: 0.35, showSymbol: false, symbol: 'none',
          silent: true, clip: true, z: 2 + li, lineStyle: {color: p.pal[li], width: 2}
        });
      });
    });
  }
});

const chart = echarts.init(document.getElementById('c'), null, {renderer: 'canvas'});
chart.setOption({
  animation: false, backgroundColor: '#fff',
  textStyle: {fontFamily: SERIF},
  grid: grids, xAxis: xAxes, yAxis: yAxes, series: series
});
</script></body></html>
